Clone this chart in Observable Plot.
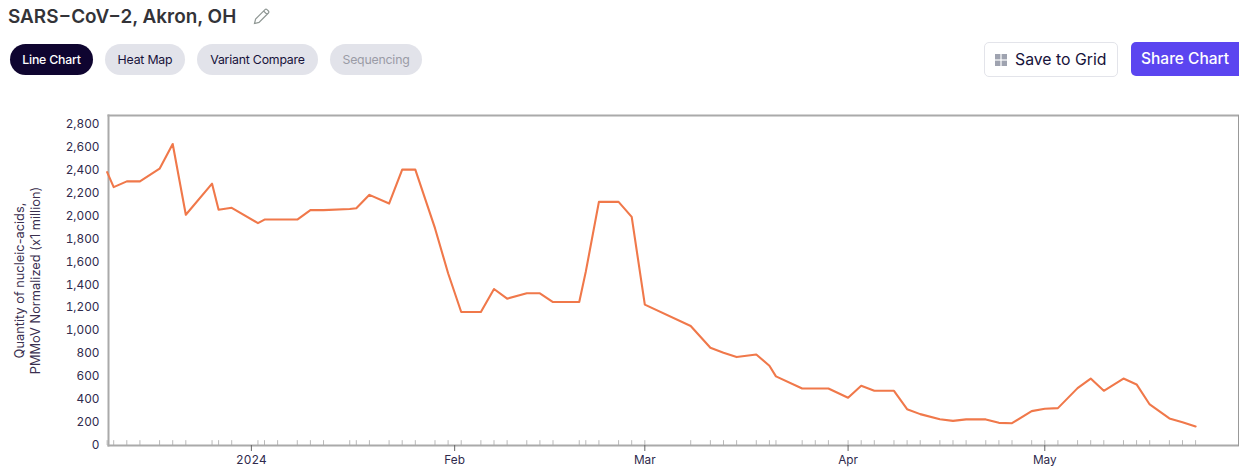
<!DOCTYPE html>
<html>
<head>
<meta charset="utf-8">
<script src="https://cdn.jsdelivr.net/npm/d3@7"></script>
<script src="https://cdn.jsdelivr.net/npm/@observablehq/plot@0.6"></script>
<style>
  html, body { margin: 0; padding: 0; background: #fff; overflow: hidden; }
  body { width: 1239px; height: 470px; font-family: Inter, "Noto Sans", sans-serif; position: relative; }
  #head { position: relative; height: 105px; width: 1239px; overflow: hidden; }
  #head > * { position: absolute; box-sizing: border-box; }
  .title { left: 8px; top: 5px; font-size: 18.9px; line-height: 24px; font-weight: 600; color: #333338; white-space: nowrap; }
  .pill { top: 44px; height: 31px; border-radius: 16px; background: #e2e3ea; color: #17123a; font-size: 12.3px; line-height: 31px; text-align: center; letter-spacing: -0.2px; white-space: nowrap; }
  .pill.on { background: #0f0530; color: #fff; font-weight: 500; }
  .pill.off { color: #9a9ba6; }
  .save { left: 984px; top: 42px; width: 134px; height: 35px; border: 1px solid #e3e4ea; border-radius: 5px; color: #17123a; font-size: 15.8px; line-height: 33px; padding-left: 30px; white-space: nowrap; }
  .share { left: 1131px; top: 42px; width: 130px; height: 34px; border-radius: 5px; background: #5b45f0; color: #fff; font-size: 15.5px; font-weight: 500; line-height: 34px; padding-left: 10px; white-space: nowrap; }
  .grid { left: 995px; top: 54px; width: 12px; height: 12px; }
  .pen { left: 252px; top: 7px; width: 19px; height: 19px; }
  #chart svg { display: block; }
</style>
</head>
<body>
<div id="head">
  <div class="title">SARS−CoV−2, Akron, OH</div>
  <svg class="pen" viewBox="0 0 19 19" fill="none" stroke="#8f9794" stroke-width="1.2"><path d="M2.5 16.5 L3.6 12 L13 2.6 Q14 1.7 15 2.6 L16.4 4 Q17.3 5 16.4 6 L7 15.4 Z M11.6 4 L15 7.4"/></svg>
  <div class="pill on" style="left:10px;width:83px">Line Chart</div>
  <div class="pill" style="left:105px;width:80px">Heat Map</div>
  <div class="pill" style="left:197px;width:121px">Variant Compare</div>
  <div class="pill off" style="left:330px;width:92px">Sequencing</div>
  <div class="save">Save to Grid</div>
  <svg class="grid" viewBox="0 0 12 12" fill="#9fa3b0"><rect width="5.4" height="5.4"/><rect x="6.6" width="5.4" height="5.4"/><rect y="6.6" width="5.4" height="5.4"/><rect x="6.6" y="6.6" width="5.4" height="5.4"/></svg>
  <div class="share">Share Chart</div>
</div>
<div id="chart"></div>
<script>
const dates = ["2023-12-10","2023-12-11","2023-12-13","2023-12-15","2023-12-18","2023-12-20","2023-12-22","2023-12-26","2023-12-27","2023-12-29",
  "2024-01-02","2024-01-03","2024-01-05","2024-01-08","2024-01-10","2024-01-12","2024-01-16","2024-01-17","2024-01-19","2024-01-22","2024-01-24","2024-01-26","2024-01-29","2024-01-31",
  "2024-02-02","2024-02-05","2024-02-07","2024-02-09","2024-02-12","2024-02-14","2024-02-16","2024-02-20","2024-02-21","2024-02-23","2024-02-26","2024-02-28",
  "2024-03-01","2024-03-08","2024-03-11","2024-03-13","2024-03-15","2024-03-18","2024-03-20","2024-03-21","2024-03-25","2024-03-27","2024-03-29",
  "2024-04-01","2024-04-03","2024-04-05","2024-04-08","2024-04-10","2024-04-12","2024-04-15","2024-04-17","2024-04-19","2024-04-22","2024-04-24","2024-04-26","2024-04-29",
  "2024-05-01","2024-05-03","2024-05-06","2024-05-08","2024-05-10","2024-05-13","2024-05-15","2024-05-17","2024-05-20","2024-05-22","2024-05-24"];
const quantity = [2370,2240,2290,2290,2400,2615,2000,2270,2043,2060,
  1927,1958,1958,1958,2040,2040,2050,2057,2173,2097,2392,2392,1883,1491,
  1154,1154,1354,1270,1317,1317,1241,1241,1505,2112,2112,1981,
  1218,1032,843,800,762,785,686,594,489,489,489,
  408,512,469,469,309,266,222,207,220,220,190,187,292,
  312,318,492,575,469,575,524,350,228,196,158];
const monthTicks = ["2024-01-01","2024-02-01","2024-03-01","2024-04-01","2024-05-01"];
const monthLabels = ["2024","Feb","Mar","Apr","May"];
const yTicks = [0,200,400,600,800,1000,1200,1400,1600,1800,2000,2200,2400,2600,2800];
const xDomain = ["2023-12-10T05:00Z","2024-05-30T13:00Z"];
const yDomain = [-7,2863];
const yLabel = "Quantity of nucleic-acids,\nPMMoV Normalized (x1 million)";

const parse = s => new Date(s.length === 10 ? s + "T00:00Z" : s);
const rows = dates.map((d, i) => ({date: parse(d), value: quantity[i]}));
const major = monthTicks.map(parse);

const plot = Plot.plot({
  width: 1239,
  height: 365,
  marginLeft: 108,
  marginRight: 1,
  marginTop: 10,
  marginBottom: 25,
  style: {fontFamily: "Inter, 'Noto Sans', sans-serif", fontSize: "11.8px", color: "#2f2a4d", background: "#fff", overflow: "visible"},
  x: {type: "utc", domain: xDomain.map(parse)},
  y: {domain: yDomain},
  marks: [
    Plot.ruleX(rows, {x: "date", y1: yDomain[0], y2: 35, stroke: "#b9b9b9", strokeWidth: 1}),
    Plot.frame({anchor: "left", stroke: "#aaaaaa", strokeWidth: 2, strokeOpacity: 1}),
    Plot.frame({anchor: "top", stroke: "#aaaaaa", strokeWidth: 2, strokeOpacity: 1}),
    Plot.frame({anchor: "bottom", stroke: "#aaaaaa", strokeWidth: 2, strokeOpacity: 1}),
    Plot.frame({anchor: "right", stroke: "#999999", strokeWidth: 1, strokeOpacity: 1}),
    Plot.axisY({ticks: yTicks, tickSize: 0, tickPadding: 9, dy: 1, tickFormat: d3.format(","), label: null}),
    Plot.text([yLabel], {frameAnchor: "left", textAnchor: "middle", dx: -81.5, rotate: -90, fontSize: 12.8, lineHeight: 1.25, fill: "#3a2f4f"}),
    Plot.axisX({ticks: major, tickSize: 6, tickPadding: 4, stroke: "#666", tickFormat: d => monthLabels[major.findIndex(m => +m === +d)], label: null}),
    Plot.line(rows, {x: "date", y: "value", stroke: "#f0784a", strokeWidth: 2.1, curve: "linear"})
  ]
});
document.getElementById("chart").appendChild(plot);
</script>
</body>
</html>
